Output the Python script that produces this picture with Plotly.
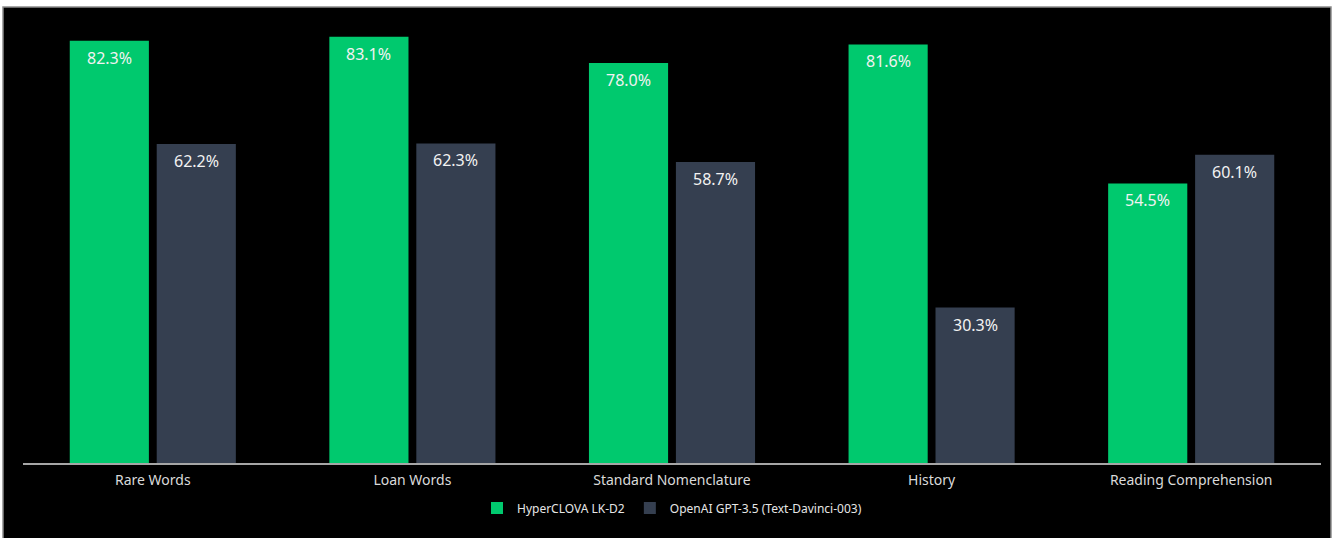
import plotly.graph_objects as go

categories = ["Rare Words", "Loan Words", "Standard Nomenclature", "History", "Reading Comprehension"]
hyperclova = [82.3, 83.1, 78.0, 81.6, 54.5]
gpt35 = [62.2, 62.3, 58.7, 30.3, 60.1]
series_names = ["HyperCLOVA LK-D2", "OpenAI GPT-3.5 (Text-Davinci-003)"]

W, H = 1336, 538
L, R, T, B = 23, 15, 7, 75
pw, ph = W - L - R, H - T - B

def px_x(p):
    return (p - L) / pw

def px_y(p):
    return (H - B - p) / ph

FONT = "Noto Sans"
COLORS = ["#00C96E", "#353F50"]

fig = go.Figure()
for name, vals, col in zip(series_names, [hyperclova, gpt35], COLORS):
    fig.add_trace(go.Bar(
        x=categories, y=vals, name=name,
        marker=dict(color=col, line=dict(width=0)),
        hoverinfo="x+y",
    ))

for vals, shift in [(hyperclova, -43.5), (gpt35, 43.5)]:
    for c, v in zip(categories, vals):
        fig.add_annotation(x=c, y=v, xshift=shift, yshift=-4, yanchor="top",
                           text=f"{v:.1f}%", showarrow=False,
                           font=dict(color="#F2F2F2", size=16, family=FONT))

fig.add_shape(type="rect", xref="paper", yref="paper", layer="below",
              x0=px_x(3), x1=px_x(1331), y0=px_y(545), y1=px_y(7),
              fillcolor="black", line=dict(color="#8c8c8c", width=1.5))

fig.update_layout(
    width=W, height=H,
    margin=dict(l=L, r=R, t=T, b=B),
    paper_bgcolor="white", plot_bgcolor="black",
    barmode="group", bargap=0.33, bargroupgap=0.09,
    font=dict(family=FONT, color="#E6E6E6"),
    showlegend=True,
    legend=dict(orientation="h", x=0.5, xanchor="center", y=px_y(508), yanchor="middle",
                font=dict(size=12, color="#E6E6E6", family=FONT),
                bgcolor="rgba(0,0,0,0)", itemwidth=30, itemsizing="constant"),
    xaxis=dict(showline=True, linecolor="#A6A6A6", linewidth=1.5, ticks="",
               ticklabelstandoff=3,
               tickfont=dict(size=14, color="#DADADA", family=FONT), showgrid=False),
    yaxis=dict(range=[0, 88.9], visible=False, showgrid=False),
)

fig.write_html("out.html", config={"displayModeBar": False},
               post_script="document.body.style.margin='0';")
